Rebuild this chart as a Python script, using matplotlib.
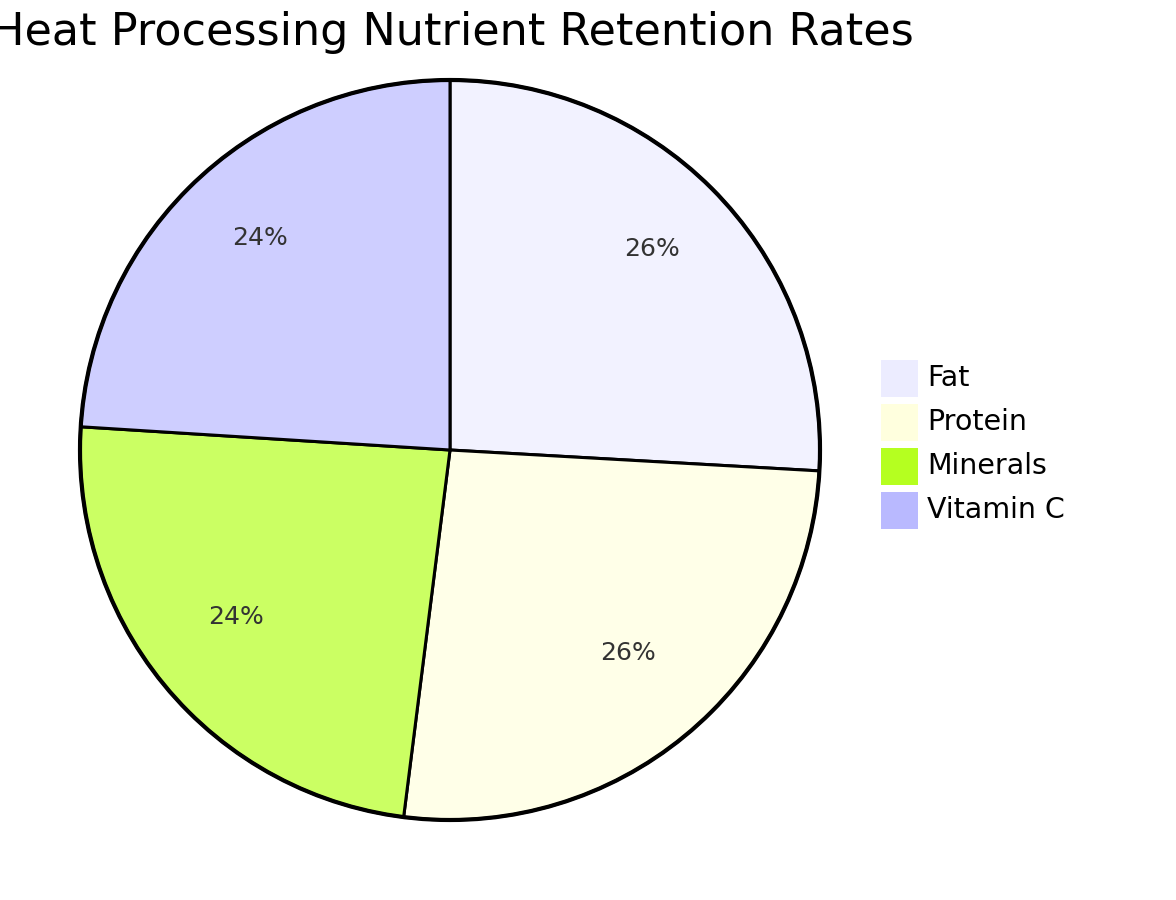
import matplotlib
matplotlib.use("Agg")
import matplotlib.pyplot as plt
from matplotlib.patches import Rectangle, Circle

title = "Heat Processing Nutrient Retention Rates"
labels = ["Fat", "Protein", "Minerals", "Vitamin C"]
values = [25.9, 26.1, 24.0, 24.0]
slice_colors = ["#F2F2FF", "#FFFFE8", "#CBFF63", "#CECEFF"]
legend_colors = ["#ECECFF", "#FFFFDE", "#B5FF20", "#B9B9FF"]

W, H = 1176, 900
fig = plt.figure(figsize=(W / 100, H / 100), dpi=100)
ax = fig.add_axes([0, 0, 1, 1])

cx, cy, R = 450, 450, 370
wedges, texts, autotexts = ax.pie(
    values, center=(cx, cy), radius=R, startangle=90, counterclock=False,
    colors=slice_colors, autopct=lambda p: f"{p:.0f}%", pctdistance=0.75,
    wedgeprops=dict(edgecolor="black", linewidth=2.2),
    textprops=dict(fontsize=18, color="#333333", family="DejaVu Sans"),
    frame=True)
for t in autotexts:
    x, y = t.get_position()
    t.set_position((x, y + 10))
ax.set_xlim(0, W)
ax.set_ylim(0, H)
ax.set_aspect("equal")
ax.axis("off")
ax.add_patch(Circle((cx, cy), R, fill=False, edgecolor="black", linewidth=3, zorder=5))

ax.text(452, H - 33, title, ha="center", va="center", fontsize=32,
        family="DejaVu Sans", color="black")

for i, (lab, col) in enumerate(zip(labels, legend_colors)):
    yc = H - (378 + 44 * i)
    ax.add_patch(Rectangle((881, yc - 18.5), 37, 37, facecolor=col, edgecolor="none"))
    ax.text(927, yc, lab, ha="left", va="center", fontsize=20.5,
            family="DejaVu Sans", color="black")

fig.savefig("out.png", dpi=100, facecolor="white")
